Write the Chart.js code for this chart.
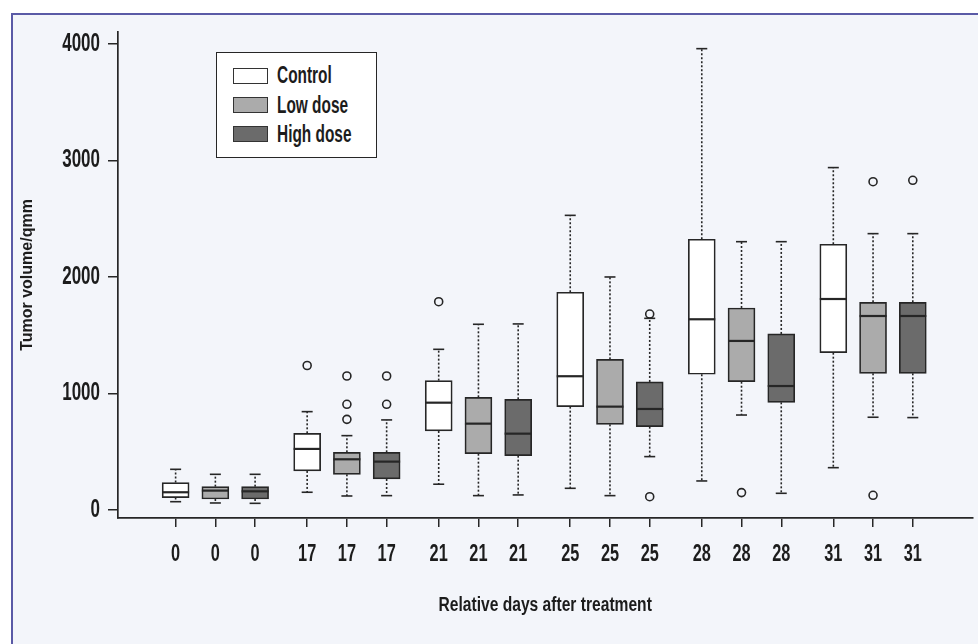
<!DOCTYPE html>
<html>
<head>
<meta charset="utf-8">
<script src="https://cdn.jsdelivr.net/npm/chart.js@4.4.1/dist/chart.umd.min.js"></script>
<style>
  html, body { margin: 0; padding: 0; background: #ffffff; }
  #wrap { position: relative; width: 978px; height: 644px; overflow: hidden; background: #ffffff; }
  #frame { position: absolute; left: 11px; top: 13px; width: 980px; height: 640px;
           background: #f3f5fa; border-top: 2px solid #5a5aa6; border-left: 2px solid #5a5aa6; }
  #chart { position: absolute; left: 0; top: 0; }
  #legend { position: absolute; left: 216px; top: 52px; width: 161px; height: 106px;
            box-sizing: border-box; border: 1.6px solid #262626; background: #ffffff;
            font-family: "Liberation Sans", Arial, sans-serif;
            font-weight: bold; font-size: 23px; color: #1c1c1c; }
  .item { position: absolute; left: 16px; height: 26px; display: flex; align-items: center; white-space: nowrap; }
  .sw { width: 35px; height: 16px; box-sizing: border-box; border: 1.5px solid #333; margin-right: 9px; flex: none; }
  .lt { display: inline-block; transform: scaleX(0.67); transform-origin: left center; }
</style>
</head>
<body>
<div id="wrap">
  <div id="frame"></div>
  <canvas id="chart" width="978" height="644"></canvas>
  <div id="legend"></div>
</div>
<script>
// ---- data ----
const days = [0, 17, 21, 25, 28, 31];
const xTickLabels = ['0','0','0','17','17','17','21','21','21','25','25','25','28','28','28','31','31','31'];
const seriesNames = ['Control', 'Low dose', 'High dose'];
const yTicks = [0, 1000, 2000, 3000, 4000];

// each entry: [lower whisker, Q1, median, Q3, upper whisker]
const controlBox = [
  [71, 106, 152, 235, 349],
  [152, 335, 524, 658, 844],
  [221, 678, 921, 1110, 1379],
  [186, 887, 1148, 1869, 2529],
  [249, 1165, 1637, 2324, 3960],
  [363, 1350, 1811, 2281, 2939]
];
const lowDoseBox = [
  [60, 94, 166, 200, 306],
  [120, 306, 435, 495, 638],
  [123, 483, 741, 967, 1594],
  [123, 735, 887, 1293, 2000],
  [815, 1101, 1451, 1734, 2303],
  [796, 1173, 1665, 1783, 2372]
];
const highDoseBox = [
  [57, 94, 160, 200, 306],
  [123, 266, 415, 495, 773],
  [129, 466, 655, 950, 1597],
  [458, 715, 867, 1099, 1645],
  [143, 924, 1064, 1511, 2303],
  [793, 1173, 1665, 1783, 2372]
];
const controlOutliers = [[], [1240], [1788], [], [], []];
const lowDoseOutliers = [[], [778, 907, 1150], [], [], [149], [126, 2818]];
const highDoseOutliers = [[], [907, 1150], [], [114, 1682], [], [2830]];

// ---- styling / layout ----
const fills = ['#ffffff', '#ababab', '#6b6b6b'];
const ink = '#262626';
const groupStep = 3.31;
const boxes = [controlBox, lowDoseBox, highDoseBox];
const outliers = [controlOutliers, lowDoseOutliers, highDoseOutliers];
function pos(g, s) { return g * groupStep + s; }
const tickPositions = [];
days.forEach((d, g) => { for (let s = 0; s < 3; s++) tickPositions.push(pos(g, s)); });

// condensed look: family marker "CondNN" => horizontal squeeze NN%
const condTicks = '"Cond68", "Liberation Sans", Arial, sans-serif';
const condTitle = '"Cond78", "Liberation Sans", Arial, sans-serif';

const canvas = document.getElementById('chart');
const c2d = canvas.getContext('2d');
const nativeFill = c2d.fillText.bind(c2d);
c2d.fillText = function (text, x, y, maxWidth) {
  const m = /Cond(\d+)/.exec(this.font);
  if (!m) return maxWidth === undefined ? nativeFill(text, x, y) : nativeFill(text, x, y, maxWidth);
  const k = Number(m[1]) / 100;
  this.save();
  this.translate(x, y);
  this.scale(k, 1);
  nativeFill(text, 0, 0);
  this.restore();
};

const datasets = [];
boxes.forEach((box, s) => {
  datasets.push({
    type: 'bar', label: seriesNames[s],
    data: box.map((b, g) => ({ x: pos(g, s), y: [b[1], b[3]] })),
    backgroundColor: fills[s], borderColor: ink, borderWidth: 1.7,
    borderSkipped: false, barThickness: 27, grouped: false, order: 2
  });
});
outliers.forEach((out, s) => {
  const pts = [];
  out.forEach((vals, g) => vals.forEach(v => pts.push({ x: pos(g, s), y: v })));
  datasets.push({
    type: 'scatter', label: seriesNames[s] + ' outliers', data: pts,
    pointStyle: 'circle', pointRadius: 4, pointHoverRadius: 4,
    backgroundColor: 'rgba(0,0,0,0)', borderColor: ink, borderWidth: 1.6, order: 1
  });
});

const boxParts = {
  id: 'boxParts',
  afterDatasetsDraw(chart) {
    const { ctx, scales: { x, y } } = chart;
    const line = (x1, y1, x2, y2) => { ctx.beginPath(); ctx.moveTo(x1, y1); ctx.lineTo(x2, y2); ctx.stroke(); };
    ctx.save();
    ctx.strokeStyle = ink;
    boxes.forEach((box, s) => {
      box.forEach((b, g) => {
        const px = x.getPixelForValue(pos(g, s));
        const [lo, q1, med, q3, hi] = b.map(v => y.getPixelForValue(v));
        ctx.lineWidth = 1.6;
        ctx.setLineDash([2, 2]);
        line(px, q3, px, hi);
        line(px, q1, px, lo);
        ctx.setLineDash([]);
        line(px - 5.5, hi, px + 5.5, hi);
        line(px - 5.5, lo, px + 5.5, lo);
        ctx.lineWidth = 2.2;
        line(px - 13.5, med, px + 13.5, med);
      });
    });
    ctx.restore();
  }
};

new Chart(canvas, {
  type: 'bar',
  data: { datasets },
  plugins: [boxParts],
  options: {
    responsive: false, animation: false,
    layout: { padding: { top: 32, right: 0, bottom: 0, left: 0 } },
    plugins: { legend: { display: false }, tooltip: { enabled: false } },
    scales: {
      x: {
        type: 'linear', min: -1.45, max: 20.05, offset: false,
        afterBuildTicks: sc => { sc.ticks = tickPositions.map(v => ({ value: v })); },
        afterFit: sc => { sc.height = 126; },
        ticks: { autoSkip: false, maxRotation: 0, minRotation: 0, padding: 13, color: '#1c1c1c',
                 font: { family: condTicks, size: 24, weight: 'bold' },
                 callback: (v, i) => xTickLabels[i] },
        grid: { drawOnChartArea: false, drawTicks: true, tickLength: 9, offset: false, color: ink, lineWidth: 1.5 },
        border: { display: true, color: ink, width: 1.7 },
        title: { display: true, text: 'Relative days after treatment', color: '#1c1c1c',
                 font: { family: condTitle, size: 20, weight: 'bold' }, padding: { top: 0, bottom: 27 } }
      },
      y: {
        type: 'linear', min: -69, max: 4103,
        afterBuildTicks: sc => { sc.ticks = yTicks.map(v => ({ value: v })); },
        afterFit: sc => { sc.width = 118; },
        ticks: { padding: 8, color: '#1c1c1c', font: { family: condTicks, size: 25, weight: 'bold' },
                 callback: v => String(v) },
        grid: { drawOnChartArea: false, drawTicks: true, tickLength: 10, color: ink, lineWidth: 1.5 },
        border: { display: true, color: ink, width: 1.7 },
        title: { display: true, text: 'Tumor volume/qmm', color: '#1c1c1c',
                 font: { family: '"Liberation Sans", Arial, sans-serif', size: 16, weight: 'bold' },
                 padding: { top: 18, bottom: 0 } }
      }
    }
  }
});

// legend (HTML, real text)
const legend = document.getElementById('legend');
const centers = [22.7, 52, 81.3];
seriesNames.forEach((name, s) => {
  const it = document.createElement('div');
  it.className = 'item';
  it.style.top = (centers[s] - 13) + 'px';
  const sw = document.createElement('div');
  sw.className = 'sw';
  sw.style.background = fills[s];
  const t = document.createElement('span');
  t.className = 'lt';
  t.textContent = name;
  it.appendChild(sw); it.appendChild(t);
  legend.appendChild(it);
});
</script>
</body>
</html>
